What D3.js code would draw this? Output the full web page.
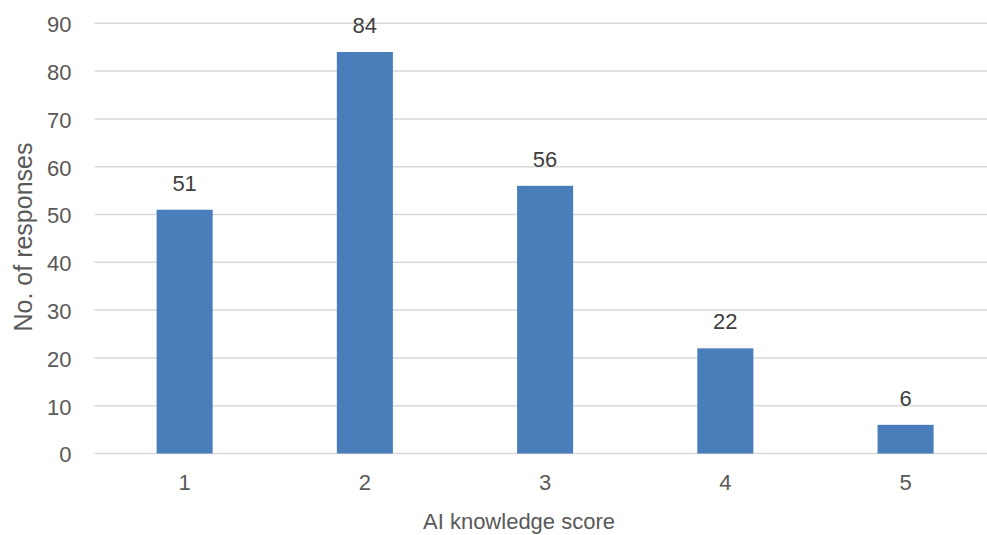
<!DOCTYPE html>
<html>
<head>
<meta charset="utf-8">
<script src="https://cdn.jsdelivr.net/npm/d3@7"></script>
<style>
  html, body { margin: 0; padding: 0; background: #fff; }
  svg { display: block; font-family: "Liberation Sans", Arial, sans-serif; }
</style>
</head>
<body>
<svg id="chart" width="987" height="535"></svg>
<script>
// AI knowledge score distribution
const scores = ["1", "2", "3", "4", "5"];
const responses = [51, 84, 56, 22, 6];
const yTicks = [0, 10, 20, 30, 40, 50, 60, 70, 80, 90];

const svg = d3.select("#chart");
const plot = { left: 94.5, right: 995.7, top: 23.3, bottom: 453.5 };

const x = d3.scaleBand()
  .domain(scores)
  .range([plot.left, plot.right])
  .paddingInner(0.689)
  .paddingOuter(0.3445);

const y = d3.scaleLinear()
  .domain([0, 90])
  .range([plot.bottom, plot.top]);

// horizontal gridlines
svg.append("g")
  .selectAll("line")
  .data(yTicks)
  .join("line")
  .attr("x1", plot.left)
  .attr("x2", plot.right)
  .attr("y1", d => y(d))
  .attr("y2", d => y(d))
  .attr("stroke", "#d9d9d9")
  .attr("stroke-width", 1.5);

// y axis labels
const yAxis = svg.append("g")
  .attr("transform", `translate(${plot.left - 23},0)`)
  .call(d3.axisLeft(y).tickValues(yTicks).tickSize(0).tickPadding(0));
yAxis.select(".domain").remove();
yAxis.selectAll("text")
  .attr("fill", "#595959")
  .style("font-size", "22px")
  .attr("dy", "0.38em");

// x axis labels
const xAxis = svg.append("g")
  .attr("transform", `translate(0,${plot.bottom})`)
  .call(d3.axisBottom(x).tickSize(0).tickPadding(21));
xAxis.select(".domain").remove();
xAxis.selectAll("text")
  .attr("fill", "#595959")
  .style("font-size", "22px");

// bars
svg.append("g")
  .selectAll("rect")
  .data(scores)
  .join("rect")
  .attr("x", d => x(d))
  .attr("width", x.bandwidth())
  .attr("y", (d, i) => y(responses[i]))
  .attr("height", (d, i) => y(0) - y(responses[i]))
  .attr("fill", "#4a7ebb");

// value labels
svg.append("g")
  .selectAll("text")
  .data(scores)
  .join("text")
  .attr("x", d => x(d) + x.bandwidth() / 2)
  .attr("y", (d, i) => y(responses[i]) - 19)
  .attr("text-anchor", "middle")
  .attr("fill", "#404040")
  .style("font-size", "22px")
  .text((d, i) => responses[i]);

// axis titles
svg.append("text")
  .attr("x", 519)
  .attr("y", 529)
  .attr("text-anchor", "middle")
  .attr("fill", "#595959")
  .style("font-size", "22px")
  .text("AI knowledge score");

svg.append("text")
  .attr("transform", "translate(32,237) rotate(-90)")
  .attr("text-anchor", "middle")
  .attr("fill", "#595959")
  .style("font-size", "25px")
  .text("No. of responses");
</script>
</body>
</html>
